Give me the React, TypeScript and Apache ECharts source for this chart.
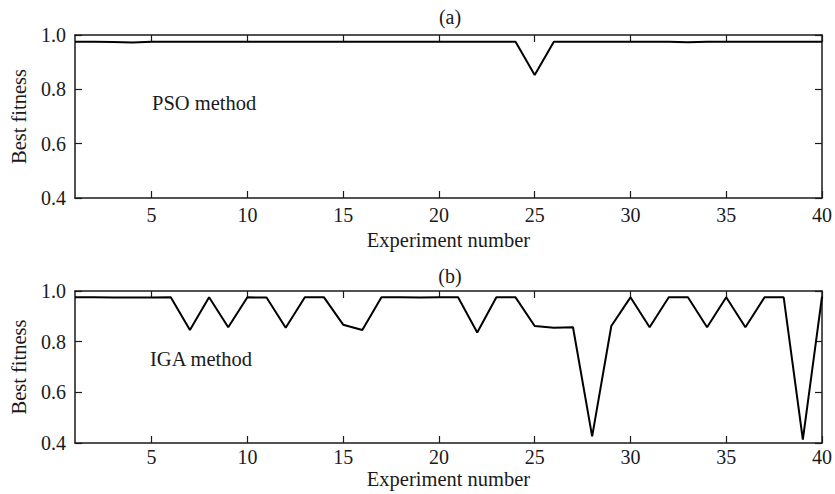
import React, { useEffect, useRef } from "react";
import * as echarts from "echarts";

const experiments: number[] = Array.from({ length: 40 }, (_, i) => i + 1);

const psoFitness: number[] = [
  0.975, 0.975, 0.974, 0.972, 0.975, 0.975, 0.975, 0.975, 0.975, 0.975,
  0.975, 0.975, 0.975, 0.975, 0.975, 0.975, 0.975, 0.975, 0.975, 0.975,
  0.975, 0.975, 0.975, 0.975, 0.853, 0.975, 0.975, 0.975, 0.975, 0.975,
  0.975, 0.975, 0.973, 0.975, 0.975, 0.975, 0.975, 0.975, 0.975, 0.975,
];

const igaFitness: number[] = [
  0.975, 0.975, 0.974, 0.974, 0.974, 0.975, 0.846, 0.975, 0.857, 0.975,
  0.974, 0.855, 0.975, 0.975, 0.867, 0.846, 0.975, 0.975, 0.974, 0.975,
  0.975, 0.836, 0.975, 0.975, 0.862, 0.855, 0.857, 0.426, 0.862, 0.975,
  0.857, 0.975, 0.975, 0.857, 0.975, 0.857, 0.975, 0.975, 0.413, 0.978,
];

const xTicks: number[] = [5, 10, 15, 20, 25, 30, 35, 40];
const panelTitles: string[] = ["(a)", "(b)"];
const methodLabels: string[] = ["PSO method", "IGA method"];
const xName = "Experiment number";
const yName = "Best fitness";

const FONT = "'Liberation Serif', 'Times New Roman', serif";
const INK = "#1a1a1a";

export default function App() {
  const ref = useRef<HTMLDivElement>(null);

  useEffect(() => {
    document.body.style.margin = "0";
    if (!ref.current) return;
    const chart = echarts.init(ref.current, null, { renderer: "svg" });

    const grids = [
      { left: 75, right: 10.5, top: 35, height: 163 },
      { left: 75, right: 10.5, top: 291, height: 152 },
    ];
    const nameGaps = [31, 25];
    const labelMargins = [7, 4];

    const xAxes: any[] = [];
    const yAxes: any[] = [];
    const series: any[] = [];
    const dataSets = [psoFitness, igaFitness];

    grids.forEach((_, gi) => {
      const common = {
        type: "value",
        gridIndex: gi,
        min: 1,
        max: 40,
        splitLine: { show: false },
        axisLine: { show: true, onZero: false, lineStyle: { color: INK, width: 1.5 } },
      };
      xAxes.push({
        ...common,
        position: "bottom",
        name: xName,
        nameLocation: "middle",
        nameGap: nameGaps[gi],
        nameTextStyle: { fontFamily: FONT, fontSize: 20.5, color: INK },
        axisTick: { show: true, inside: true, length: 7, customValues: xTicks, lineStyle: { color: INK, width: 1.2 } },
        axisLabel: { show: true, customValues: xTicks, margin: labelMargins[gi], fontFamily: FONT, fontSize: 20, color: INK },
      });
      xAxes.push({
        ...common,
        position: "top",
        axisTick: { show: true, inside: true, length: 7, customValues: xTicks, lineStyle: { color: INK, width: 1.2 } },
        axisLabel: { show: false },
      });
      const ycommon = {
        type: "value",
        gridIndex: gi,
        min: 0.4,
        max: 1.0,
        interval: 0.2,
        splitLine: { show: false },
        axisLine: { show: true, onZero: false, lineStyle: { color: INK, width: 1.5 } },
        axisTick: { show: true, inside: true, length: 7, lineStyle: { color: INK, width: 1.2 } },
      };
      yAxes.push({
        ...ycommon,
        position: "left",
        name: yName,
        nameLocation: "middle",
        nameGap: 46,
        nameRotate: 90,
        nameTextStyle: { fontFamily: FONT, fontSize: 20.5, color: INK },
        axisLabel: {
          show: true,
          margin: 9,
          fontFamily: FONT,
          fontSize: 20,
          color: INK,
          formatter: (v: number) => v.toFixed(1),
        },
      });
      yAxes.push({
        ...ycommon,
        position: "right",
        axisLabel: { show: false },
      });
      series.push({
        type: "line",
        xAxisIndex: gi * 2,
        yAxisIndex: gi * 2,
        data: experiments.map((x, i) => [x, dataSets[gi][i]]),
        showSymbol: false,
        symbol: "none",
        lineStyle: { color: "#000", width: 2 },
      });
    });

    chart.setOption({
      animation: false,
      backgroundColor: "#fff",
      grid: grids,
      xAxis: xAxes,
      yAxis: yAxes,
      series,
      graphic: [
        { type: "text", x: 450, y: 17, style: { text: panelTitles[0], font: `20px ${FONT}`, fill: INK, textAlign: "center", textVerticalAlign: "middle" } },
        { type: "text", x: 450, y: 276, style: { text: panelTitles[1], font: `20px ${FONT}`, fill: INK, textAlign: "center", textVerticalAlign: "middle" } },
        { type: "text", x: 152, y: 103, style: { text: methodLabels[0], font: `20.5px ${FONT}`, fill: INK, textAlign: "left", textVerticalAlign: "middle" } },
        { type: "text", x: 150, y: 359, style: { text: methodLabels[1], font: `20.5px ${FONT}`, fill: INK, textAlign: "left", textVerticalAlign: "middle" } },
      ],
    });

    return () => chart.dispose();
  }, []);

  return <div ref={ref} style={{ width: 835, height: 494 }} />;
}
